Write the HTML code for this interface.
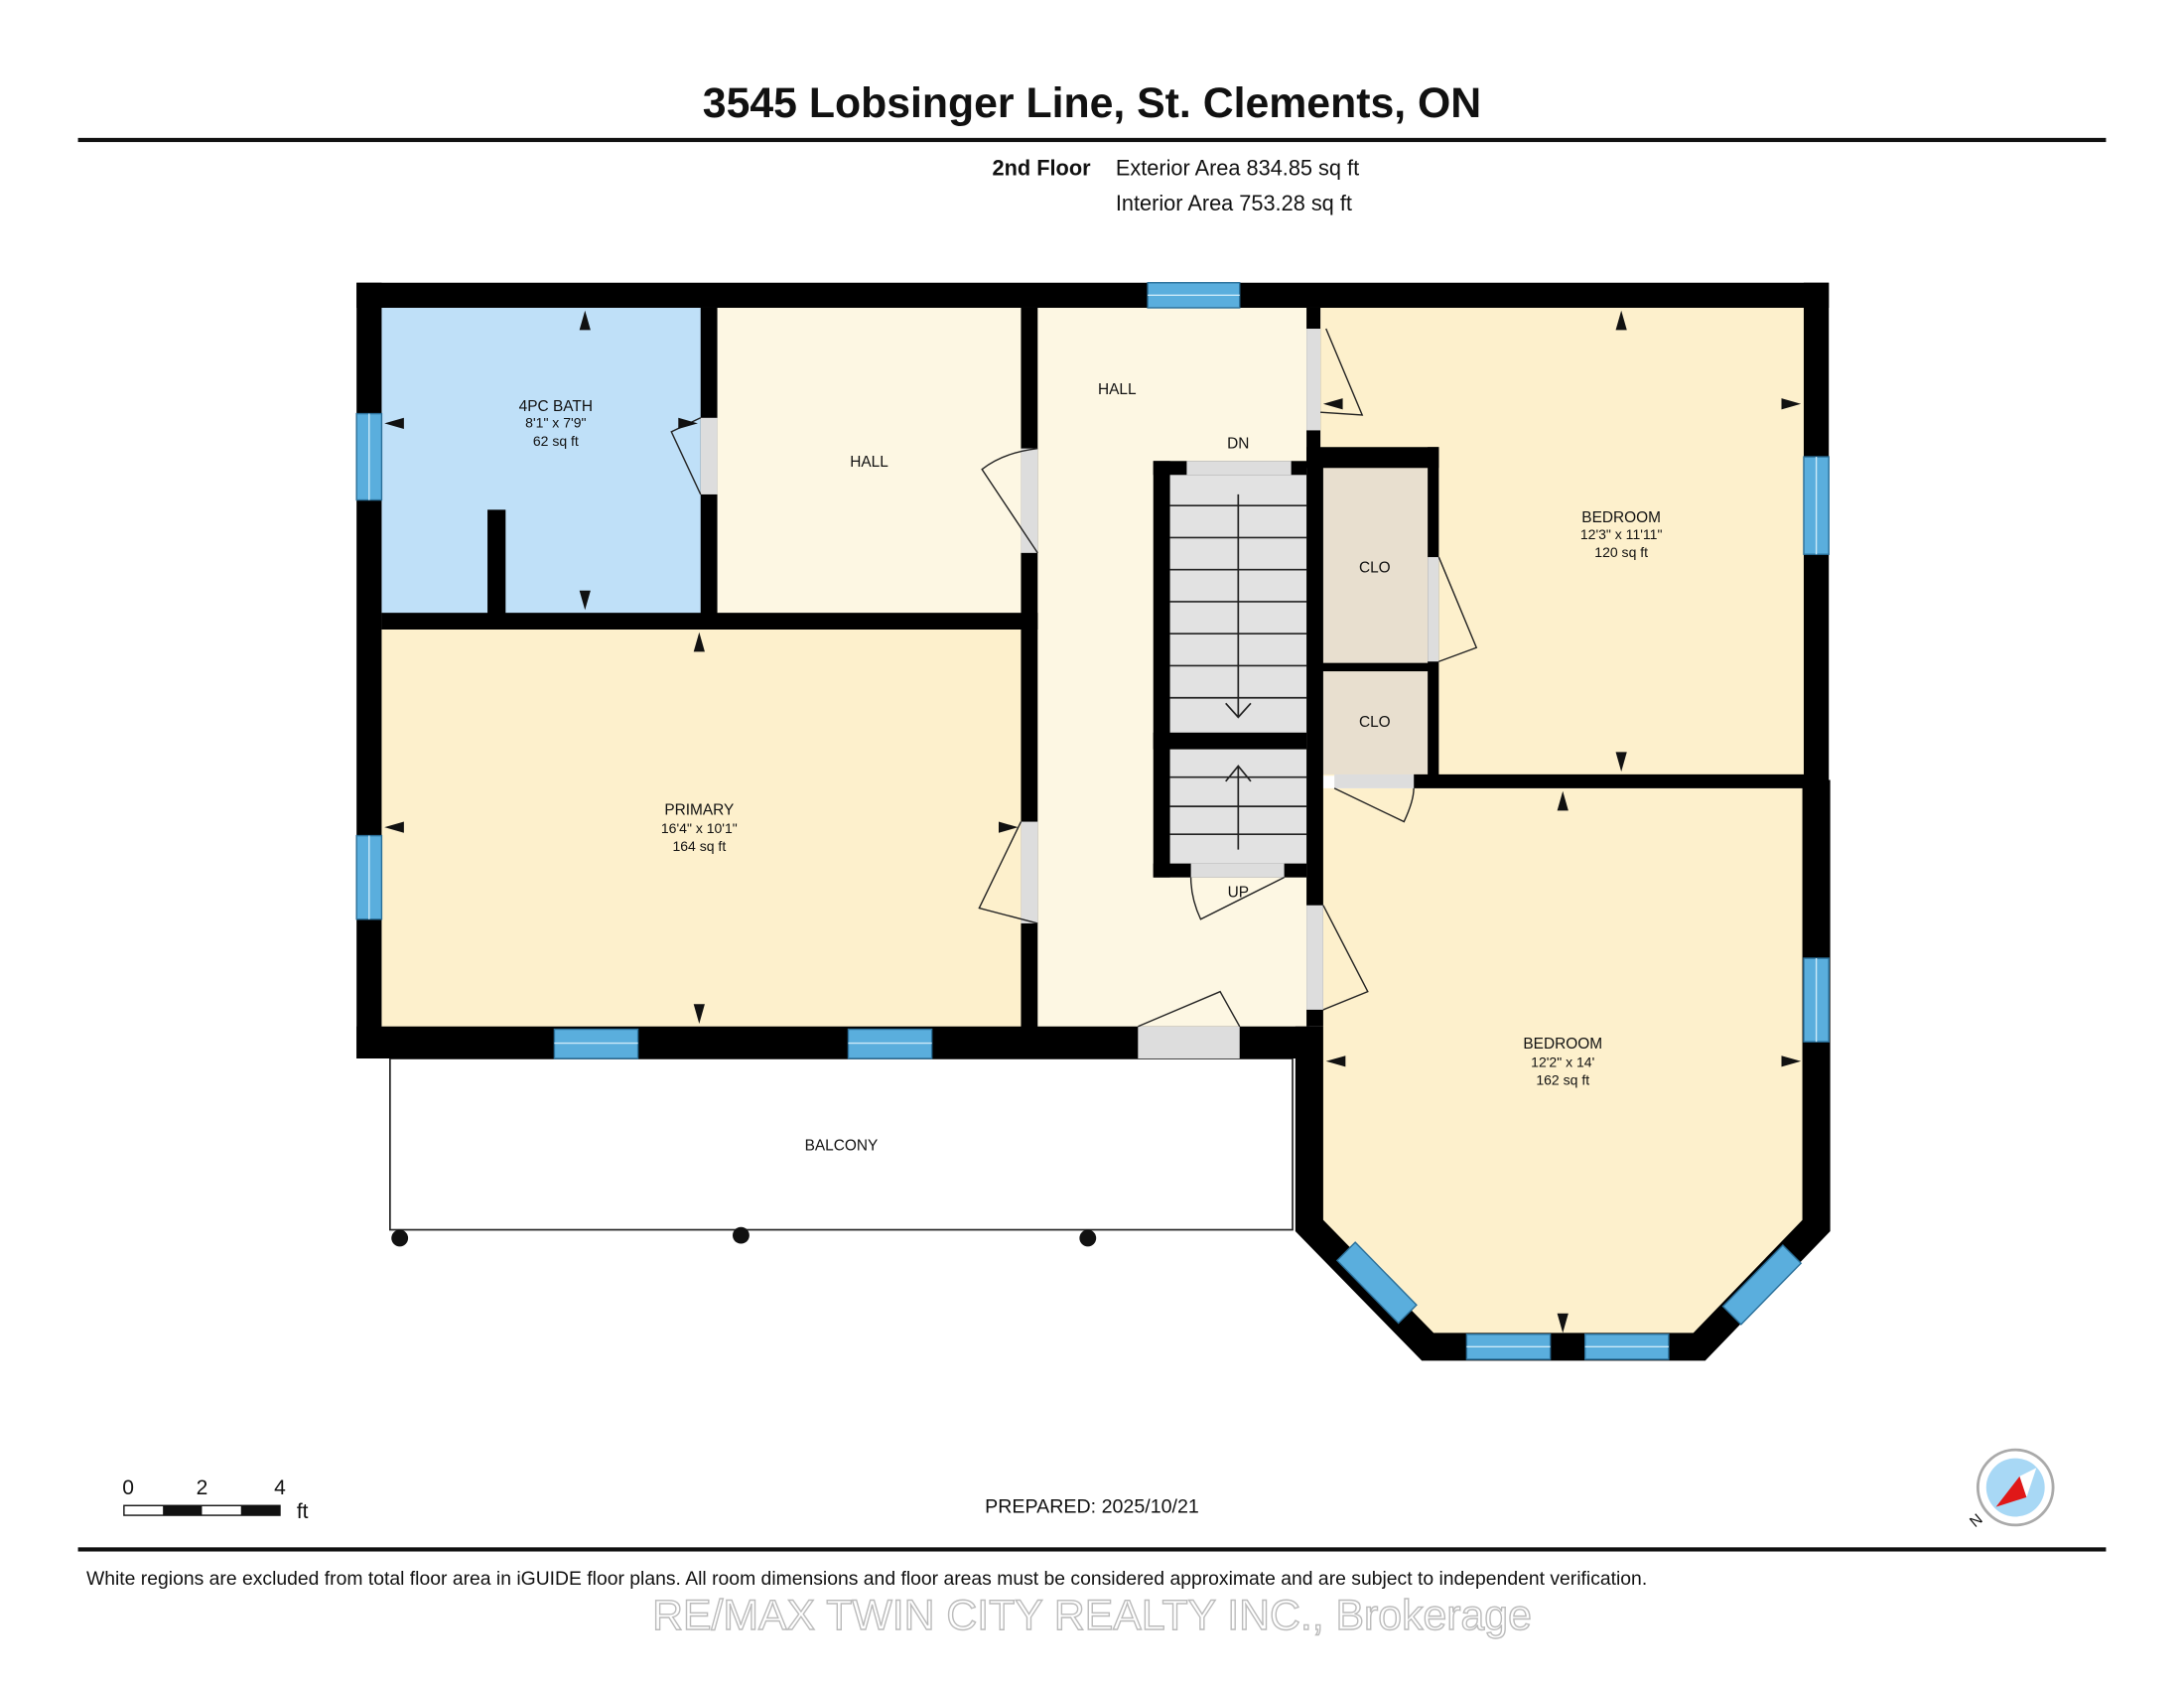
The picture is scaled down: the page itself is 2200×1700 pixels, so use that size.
<!DOCTYPE html>
<html><head><meta charset="utf-8"><style>
html,body{margin:0;padding:0;background:#fff;width:2200px;height:1700px;overflow:hidden}
svg{display:block}
text{font-family:"Liberation Sans",Arial,sans-serif;fill:#111}
</style></head><body>
<svg width="2200" height="1700" viewBox="0 0 1568 1212" preserveAspectRatio="none" xmlns="http://www.w3.org/2000/svg">
<rect width="1568" height="1212" fill="#fff"/>
<text x="784" y="84" font-size="30.5" font-weight="bold" text-anchor="middle">3545 Lobsinger Line, St. Clements, ON</text>
<rect x="56" y="99" width="1456" height="3" fill="#111"/>
<text x="783" y="126" font-size="15.5" font-weight="bold" text-anchor="end">2nd Floor</text>
<text x="801" y="126" font-size="15.5">Exterior Area 834.85 sq ft</text>
<text x="801" y="151" font-size="15.5">Interior Area 753.28 sq ft</text>

<rect x="274" y="221" width="230" height="220" fill="#bfe0f8"/>
<rect x="515" y="221" width="219" height="220" fill="#fdf7e3"/>
<rect x="745" y="221" width="194" height="517" fill="#fdf7e3"/>
<rect x="274" y="452" width="460" height="286" fill="#fdf0cc"/>
<rect x="948" y="221" width="348" height="336" fill="#fdf0cc"/>
<polygon points="948,566 1296,566 1296,880 1215,960 1030,960 948,880" fill="#fdf0cc"/>
<rect x="948" y="336" width="78" height="141" fill="#e8dfcf"/>
<rect x="948" y="482" width="78" height="74" fill="#e8dfcf"/>
<rect x="280" y="760" width="648" height="123" fill="#fff" stroke="#222" stroke-width="1.2"/>
<circle cx="287" cy="889" r="6" fill="#111"/><circle cx="532" cy="887" r="6" fill="#111"/><circle cx="781" cy="889" r="6" fill="#111"/>
<text x="604" y="826" font-size="11" text-anchor="middle">BALCONY</text>

<rect x="840" y="340" width="98" height="187" fill="#e2e2e2"/>
<rect x="840" y="538" width="98" height="83" fill="#e2e2e2"/>
<g stroke="#222" stroke-width="1.2">
<line x1="840" y1="363" x2="938" y2="363"/><line x1="840" y1="386" x2="938" y2="386"/><line x1="840" y1="409" x2="938" y2="409"/><line x1="840" y1="432" x2="938" y2="432"/><line x1="840" y1="455" x2="938" y2="455"/><line x1="840" y1="478" x2="938" y2="478"/><line x1="840" y1="501" x2="938" y2="501"/>
<line x1="840" y1="558" x2="938" y2="558"/><line x1="840" y1="579" x2="938" y2="579"/><line x1="840" y1="599" x2="938" y2="599"/>
<line x1="889" y1="355" x2="889" y2="515"/><polyline points="880,505 889,515 898,505" fill="none"/>
<line x1="889" y1="610" x2="889" y2="550"/><polyline points="880,561 889,550 898,561" fill="none"/>
</g>

<g fill="#000">
<rect x="256" y="203" width="1057" height="18"/>
<rect x="256" y="203" width="18" height="557"/>
<rect x="256" y="737" width="684" height="23"/>
<rect x="1295" y="203" width="18" height="680"/>
<rect x="503" y="221" width="12" height="220"/>
<rect x="274" y="440" width="471" height="12"/>
<rect x="350" y="366" width="13" height="76"/>
<rect x="733" y="221" width="12" height="517"/>
<rect x="938" y="221" width="10" height="115"/>
<rect x="938" y="321" width="95" height="15"/>
<rect x="1025" y="321" width="8" height="236"/>
<rect x="1015" y="556" width="281" height="10"/>
<rect x="828" y="331" width="12" height="299"/>
<rect x="828" y="331" width="110" height="10"/>
<rect x="828" y="526" width="110" height="12"/>
<rect x="828" y="620" width="110" height="10"/>
<rect x="938" y="331" width="12" height="406"/>
<rect x="948" y="476" width="78" height="6"/>
</g>
<path d="M940,737 L940,880 L1025,967 L1220,967 L1304,880 L1304,560" fill="none" stroke="#000" stroke-width="20" stroke-linejoin="miter"/>

<g fill="#ddd">
<rect x="817" y="737" width="73" height="23"/>
<rect x="503" y="300" width="12" height="55"/>
<rect x="733" y="322" width="12" height="75"/>
<rect x="733" y="590" width="12" height="73"/>
<rect x="938" y="236" width="10" height="73"/>
<rect x="938" y="650" width="12" height="75"/>
<rect x="1025" y="400" width="8" height="75"/>
<rect x="958" y="556" width="57" height="10"/>
<rect x="852" y="331" width="75" height="10"/>
<rect x="855" y="620" width="67" height="10"/>
</g>
<g fill="none" stroke="#222" stroke-width="1">
<path d="M503,355 L482,310 L503,300"/><path d="M745,397 L705,337 Q720,325 745,322"/>
<path d="M745,663 L703,652 L733,590"/><path d="M948,296 L978,298 L952,236"/>
<path d="M950,725 L982,712 L950,650"/><path d="M1033,475 L1060,465 L1033,400"/>
<path d="M958,566 L1008,590 Q1015,575 1015,566"/><path d="M890,737 L876,712 L817,737"/>
<path d="M922,630 L862,660 Q855,645 855,630"/>
</g>

<g fill="#5aaedd" stroke="#2a6f99" stroke-width="1">
<rect x="824" y="203" width="66" height="18"/>
<rect x="256" y="297" width="18" height="62"/>
<rect x="256" y="600" width="18" height="60"/>
<rect x="398" y="739" width="60" height="21"/>
<rect x="609" y="739" width="60" height="21"/>
<rect x="1295" y="328" width="18" height="70"/>
<rect x="1295" y="688" width="18" height="60"/>
<rect x="1053" y="958" width="60" height="18"/>
<rect x="1138" y="958" width="60" height="18"/>
<polygon points="960,905 973,892 1017,937 1004,950"/>
<polygon points="1237,938 1250,951 1293,907 1280,894"/>
</g>
<g stroke="#cdeaf8" stroke-width="1"><line x1="824" y1="212" x2="890" y2="212"/><line x1="265" y1="297" x2="265" y2="359"/><line x1="265" y1="600" x2="265" y2="660"/><line x1="398" y1="749" x2="458" y2="749"/><line x1="609" y1="749" x2="669" y2="749"/><line x1="1304" y1="328" x2="1304" y2="398"/><line x1="1304" y1="688" x2="1304" y2="748"/><line x1="1053" y1="967" x2="1113" y2="967"/><line x1="1138" y1="967" x2="1198" y2="967"/></g>

<g font-size="11" text-anchor="middle">
<text x="399" y="295">4PC BATH</text><text x="399" y="307" font-size="10">8'1" x 7'9"</text><text x="399" y="320" font-size="10">62 sq ft</text>
<text x="624" y="335">HALL</text>
<text x="802" y="283">HALL</text>
<text x="889" y="322">DN</text>
<text x="889" y="644">UP</text>
<text x="987" y="411">CLO</text><text x="987" y="522">CLO</text>
<text x="1164" y="375">BEDROOM</text><text x="1164" y="387" font-size="10">12'3" x 11'11"</text><text x="1164" y="400" font-size="10">120 sq ft</text>
<text x="502" y="585">PRIMARY</text><text x="502" y="598" font-size="10">16'4" x 10'1"</text><text x="502" y="611" font-size="10">164 sq ft</text>
<text x="1122" y="753">BEDROOM</text><text x="1122" y="766" font-size="10">12'2" x 14'</text><text x="1122" y="779" font-size="10">162 sq ft</text>
</g>
<g fill="#111">
<polygon points="420,223 416,237 424,237"/><polygon points="420,438 416,424 424,424"/><polygon points="276,304 290,300 290,308"/><polygon points="501,304 487,300 487,308"/>
<polygon points="502,454 498,468 506,468"/><polygon points="502,735 498,721 506,721"/><polygon points="276,594 290,590 290,598"/><polygon points="731,594 717,590 717,598"/>
<polygon points="1164,223 1160,237 1168,237"/><polygon points="1164,554 1160,540 1168,540"/><polygon points="950,290 964,286 964,294"/><polygon points="1293,290 1279,286 1279,294"/>
<polygon points="1122,568 1118,582 1126,582"/><polygon points="1122,957 1118,943 1126,943"/><polygon points="952,762 966,758 966,766"/><polygon points="1293,762 1279,758 1279,766"/>
</g>

<text x="92" y="1073" font-size="15" text-anchor="middle">0</text><text x="145" y="1073" font-size="15" text-anchor="middle">2</text><text x="201" y="1073" font-size="15" text-anchor="middle">4</text>
<rect x="89" y="1081" width="112" height="7" fill="#fff" stroke="#111" stroke-width="1"/>
<rect x="117" y="1081" width="28" height="7" fill="#111"/><rect x="173" y="1081" width="28" height="7" fill="#111"/>
<text x="213" y="1090" font-size="15">ft</text>
<text x="784" y="1086" font-size="14" text-anchor="middle">PREPARED: 2025/10/21</text>
<circle cx="1447" cy="1068" r="27" fill="#fff" stroke="#aaa" stroke-width="2"/>
<circle cx="1447" cy="1068" r="21" fill="#a8d8f5"/>
<polygon points="1433,1082 1450,1060 1455,1075" fill="#e01818"/>
<polygon points="1450,1060 1462,1054 1455,1075" fill="#fff"/>
<text x="1418" y="1097" font-size="11" transform="rotate(-40 1418 1097)">N</text>
<rect x="56" y="1111" width="1456" height="3" fill="#111"/>
<text x="62" y="1138" font-size="13.8">White regions are excluded from total floor area in iGUIDE floor plans. All room dimensions and floor areas must be considered approximate and are subject to independent verification.</text>
<text x="784" y="1170" font-size="30.5" text-anchor="middle" style="fill:#fff;stroke:#bbb;stroke-width:1">RE/MAX TWIN CITY REALTY INC., Brokerage</text>
</svg>
</body></html>
